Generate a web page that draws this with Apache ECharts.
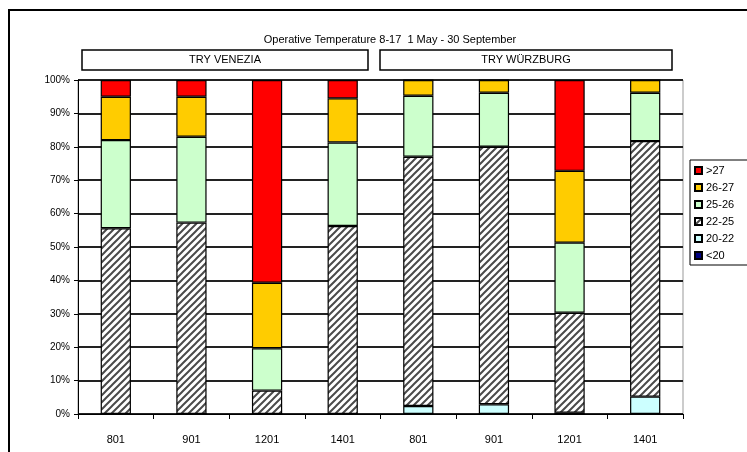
<!DOCTYPE html>
<html>
<head>
<meta charset="utf-8">
<script src="https://cdn.jsdelivr.net/npm/echarts@6/dist/echarts.min.js"></script>
<style>
  html, body { margin: 0; padding: 0; background: #fff; }
  #chart { width: 747px; height: 452px; }
</style>
</head>
<body>
<div id="chart"></div>
<script>
// Operative temperature distribution (hours 8-17, 1 May - 30 September)
const categories = ['801', '901', '1201', '1401', '801', '901', '1201', '1401'];
const yTicks = [0, 10, 20, 30, 40, 50, 60, 70, 80, 90, 100];
const groupNames = ['TRY VENEZIA', 'TRY WÜRZBURG'];

// Share of hours per temperature band (%), stacked from bottom to top
const below20 = [0, 0, 0, 0, 0, 0, 0, 0];
const band20to22 = [0, 0, 0, 0, 2.4, 2.9, 0.4, 5.2];
const band22to25 = [55.6, 57.3, 7.0, 56.3, 74.6, 77.1, 29.9, 76.5];
const band25to26 = [26.4, 25.7, 12.7, 25.0, 18.3, 16.2, 21.0, 14.5];
const band26to27 = [13.0, 12.0, 19.6, 13.2, 4.7, 3.8, 21.5, 3.8];
const above27 = [5.0, 5.0, 60.7, 5.5, 0, 0, 27.2, 0];

const FONT = "'Liberation Sans Narrow', 'Liberation Sans', Arial, sans-serif";

// diagonal hatch used for the 22-25 band
function hatchPattern() {
  const c = document.createElement('canvas');
  const s = 7;
  c.width = s; c.height = s;
  const g = c.getContext('2d');
  g.fillStyle = '#ffffff';
  g.fillRect(0, 0, s, s);
  g.strokeStyle = '#4a4a4a';
  g.lineWidth = 2;
  g.beginPath();
  g.moveTo(0, s); g.lineTo(s, 0);
  g.moveTo(-s / 2, s / 2); g.lineTo(s / 2, -s / 2);
  g.moveTo(s / 2, s + s / 2); g.lineTo(s + s / 2, s / 2);
  g.stroke();
  return c;
}

const bands = [
  { name: '<20', data: below20, color: '#000080' },
  { name: '20-22', data: band20to22, color: '#CCFFFF' },
  { name: '22-25', data: band22to25, color: { image: hatchPattern(), repeat: 'repeat' } },
  { name: '25-26', data: band25to26, color: '#CCFFCC' },
  { name: '26-27', data: band26to27, color: '#FFCC00' },
  { name: '>27', data: above27, color: '#FF0000' }
];

const chart = echarts.init(document.getElementById('chart'), null, { renderer: 'canvas' });

const series = bands.map(b => ({
  name: b.name,
  type: 'bar',
  stack: 'total',
  barWidth: '40%',
  data: b.data,
  itemStyle: { color: b.color, borderColor: '#000', borderWidth: 1.2 },
  emphasis: { disabled: true }
}));

chart.setOption({
  animation: false,
  backgroundColor: '#ffffff',
  title: {
    text: 'Operative Temperature 8-17  1 May - 30 September',
    left: 385, top: 29, textAlign: 'center',
    textStyle: { fontFamily: FONT, fontSize: 11, fontWeight: 'normal', color: '#000' }
  },
  legend: {
    orient: 'vertical',
    left: 690, top: 160,
    data: bands.map(b => b.name).reverse(),
    icon: 'rect',
    itemWidth: 7, itemHeight: 7, itemGap: 6,
    padding: [5, 20, 4, 4],
    borderColor: '#000', borderWidth: 1,
    textStyle: { fontFamily: FONT, fontSize: 11, color: '#000', padding: [0, 0, 0, -1] },
    selectedMode: false
  },
  grid: {
    left: 78, right: 64, top: 80, bottom: 38,
    show: true, borderColor: '#999', borderWidth: 1
  },
  xAxis: {
    type: 'category',
    data: categories,
    axisLine: { lineStyle: { color: '#000', width: 1 } },
    axisTick: { show: true, alignWithLabel: false, length: 5, lineStyle: { color: '#000' } },
    axisLabel: { fontFamily: FONT, fontSize: 11, color: '#000', margin: 20 }
  },
  yAxis: {
    type: 'value',
    min: yTicks[0], max: yTicks[yTicks.length - 1], interval: 10,
    axisLine: { show: true, lineStyle: { color: '#000', width: 1 } },
    axisTick: { show: true, length: 4, lineStyle: { color: '#000' } },
    axisLabel: { fontFamily: FONT, fontSize: 10, color: '#000', margin: 8, formatter: '{value}%' },
    splitLine: { lineStyle: { color: '#222', width: 2 } }
  },
  graphic: [
    { type: 'rect', shape: { x: 9, y: 10, width: 760, height: 470 },
      style: { fill: 'none', stroke: '#000', lineWidth: 2 }, silent: true, z: -1 },
    { type: 'rect', shape: { x: 82, y: 50, width: 286, height: 20 },
      style: { fill: '#fff', stroke: '#000', lineWidth: 1.5 }, silent: true },
    { type: 'text', x: 225, y: 60,
      style: { text: groupNames[0], align: 'center', verticalAlign: 'middle', fontFamily: FONT, fontSize: 11, fill: '#000' } },
    { type: 'rect', shape: { x: 380, y: 50, width: 292, height: 20 },
      style: { fill: '#fff', stroke: '#000', lineWidth: 1.5 }, silent: true },
    { type: 'text', x: 526, y: 60,
      style: { text: groupNames[1], align: 'center', verticalAlign: 'middle', fontFamily: FONT, fontSize: 11, fill: '#000' } }
  ],
  series: series
});
</script>
</body>
</html>
